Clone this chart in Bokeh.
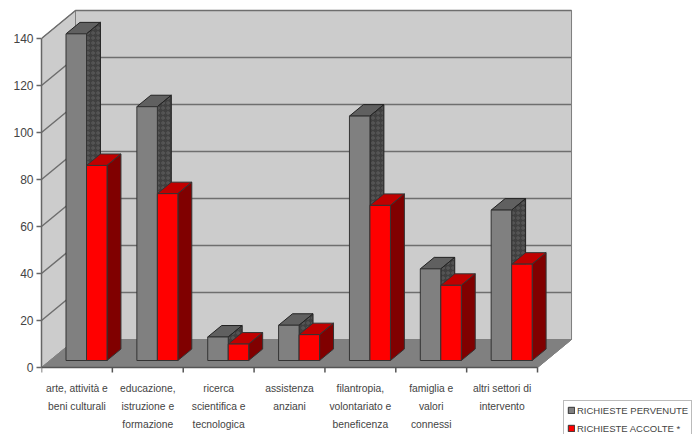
from bokeh.plotting import figure
from bokeh.models import Range1d, Legend, LegendItem, FixedTicker
from bokeh.core.properties import value
from bokeh.embed import file_html
from bokeh.resources import INLINE

categories = [
    ["arte, attività e", "beni culturali"],
    ["educazione,", "istruzione e", "formazione"],
    ["ricerca", "scientifica e", "tecnologica"],
    ["assistenza", "anziani"],
    ["filantropia,", "volontariato e", "beneficenza"],
    ["famiglia e", "valori", "connessi"],
    ["altri settori di", "intervento"],
]
pervenute = [139, 108, 10, 15, 104, 39, 64]
accolte = [83, 71, 7, 11, 66, 32, 41]
series_names = ["RICHIESTE PERVENUTE", "RICHIESTE ACCOLTE *"]
y_ticks = [0, 20, 40, 60, 80, 100, 120, 140]

W, H = 692, 434
L = 41
Y0 = 367
px_x = 70.86
px_y = 2.35
n = len(categories)
ymax = 140
dx = 34 / px_x
dy = 28 / px_y
floor_frac = 0.25
bar_frac = 0.41
bar_off = 16 / px_x
bar_w = 20.5 / px_x

p = figure(width=W, height=H, output_backend="svg", toolbar_location=None,
           x_range=Range1d(0, (W - L) / px_x),
           y_range=Range1d(-(H - Y0) / px_y, Y0 / px_y),
           x_axis_location=None,
           min_border_left=L, min_border_right=0, min_border_bottom=0, min_border_top=0)
p.outline_line_color = None
p.background_fill_color = "white"
p.grid.visible = False

WALL = "#cccccc"
EDGE = "#808080"

p.patch([0, dx, dx, 0], [0, dy, dy + ymax, ymax], fill_color=WALL, line_color=EDGE, line_width=1)
p.patch([dx, n + dx, n + dx, dx], [dy, dy, dy + ymax, dy + ymax], fill_color=WALL, line_color=EDGE, line_width=1)
p.patch([0, dx, n + dx, n], [0, dy, dy, 0], fill_color="#808080", line_color=EDGE, line_width=1)
for v in y_ticks[1:]:
    p.line([0, dx, n + dx], [v, v + dy, v + dy], line_color="#6e6e6e", line_width=1.5)
p.line([n, n + dx, n + dx], [0, dy, dy + ymax], line_color=EDGE, line_width=1)


def boxes(vals, col):
    fx, fy, sx, sy, tx, ty = [], [], [], [], [], []
    for i, v in enumerate(vals):
        x0 = i + bar_off + floor_frac * dx + col * bar_w
        x1 = x0 + bar_w
        y0 = floor_frac * dy
        y1 = y0 + v
        ox, oy = bar_frac * dx, bar_frac * dy
        fx.append([x0, x1, x1, x0]); fy.append([y0, y0, y1, y1])
        sx.append([x1, x1 + ox, x1 + ox, x1]); sy.append([y0, y0 + oy, y1 + oy, y1])
        tx.append([x0, x1, x1 + ox, x0 + ox]); ty.append([y1, y1, y1 + oy, y1 + oy])
    return fx, fy, sx, sy, tx, ty


fx, fy, sx, sy, tx, ty = boxes(pervenute, 0)
p.patches(tx, ty, fill_color="#606060", line_color="#222222", line_width=1)
p.patches(sx, sy, fill_color="#404040", line_color="#222222", line_width=1,
          hatch_pattern="ring", hatch_color="#5c5c5c", hatch_scale=5, hatch_weight=1)
grey = p.patches(fx, fy, fill_color="#808080", line_color="#333333", line_width=1)

fx, fy, sx, sy, tx, ty = boxes(accolte, 1)
p.patches(tx, ty, fill_color="#c00000", line_color="#333333", line_width=1)
p.patches(sx, sy, fill_color="#800000", line_color="#333333", line_width=1)
red = p.patches(fx, fy, fill_color="#ff0000", line_color="#333333", line_width=1)

FONT = "Liberation Sans"
TXT = "#444444"

ya = p.yaxis[0]
ya.ticker = FixedTicker(ticks=y_ticks)
ya.bounds = (0, ymax)
ya.axis_line_color = "#666666"
ya.axis_line_width = 1.5
ya.major_tick_line_color = "#666666"
ya.major_tick_line_width = 1.5
ya.major_tick_out = 5
ya.major_tick_in = 0
ya.minor_tick_line_color = None
ya.major_label_text_font = FONT
ya.major_label_text_font_size = "12px"
ya.major_label_text_color = TXT
ya.major_label_standoff = 3

# bottom axis line and ticks, drawn in data space
p.line([0, n], [0, 0], line_color="#555555", line_width=1.5)
tick_x = list(range(n + 1))
p.segment(x0=tick_x, y0=[0] * len(tick_x), x1=tick_x, y1=[-5 / px_y] * len(tick_x),
          line_color="#555555", line_width=1.5)

lx, ly, lt, lo = [], [], [], []
for i, lines in enumerate(categories):
    for k, line in enumerate(lines):
        lx.append(i + 0.5); ly.append(0); lt.append(line); lo.append(20.5 + 18 * k)
p.text(x=lx, y=ly, text=lt, y_offset=lo, text_align="center", text_baseline="middle",
       text_font=value(FONT), text_font_size="10.3px", text_color=TXT)

legend = Legend(items=[LegendItem(label=series_names[0], renderers=[grey]),
                       LegendItem(label=series_names[1], renderers=[red])],
                location=(522, -4), orientation="vertical",
                background_fill_color="white", background_fill_alpha=1,
                border_line_color="#777777", border_line_width=1,
                label_text_font=FONT, label_text_font_size="9.5px", label_text_color=TXT,
                glyph_width=8, glyph_height=8, label_standoff=2,
                padding=3, margin=0, spacing=6, label_height=12)
p.add_layout(legend)

open("out.html", "w").write(file_html(p, INLINE))
